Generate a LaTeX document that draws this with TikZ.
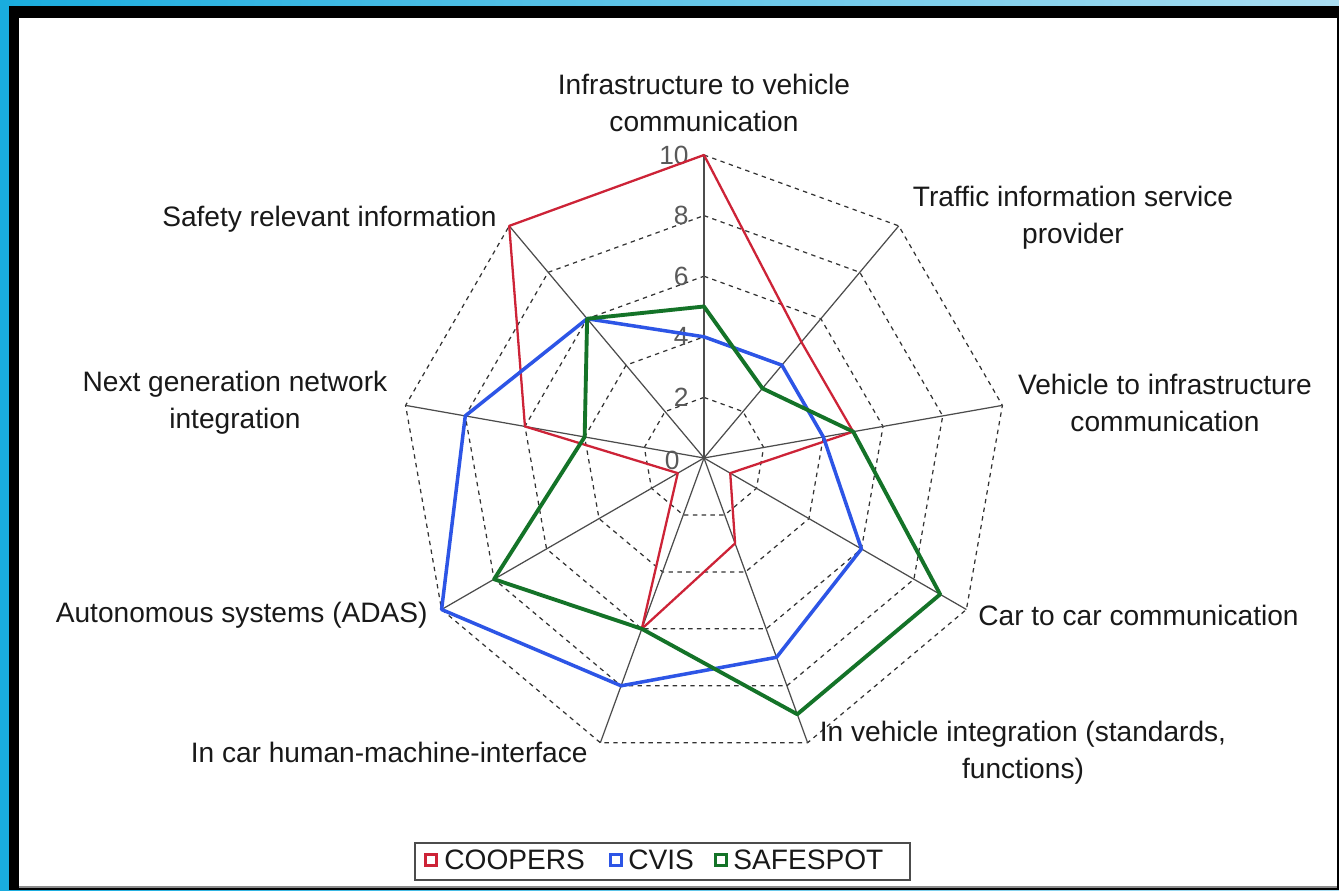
\documentclass[tikz,border=0pt]{standalone}
\usepackage{fontspec}
\setmainfont{Liberation Sans}
\definecolor{coopersred}{RGB}{205,35,55}
\definecolor{cvisblue}{RGB}{45,85,230}
\definecolor{safegreen}{RGB}{20,115,40}
\definecolor{skyleft}{RGB}{25,172,222}
\definecolor{skyright}{RGB}{170,222,242}
\tikzset{
  lbl/.style={font=\fontsize{16}{21}\selectfont, text=black!90, inner sep=0pt, align=center},
  ticklbl/.style={font=\fontsize{15}{18}\selectfont, text=black!65, inner sep=0pt, anchor=east},
  gridline/.style={draw=black!80, line width=0.7pt, dash pattern=on 2.5pt off 2.5pt},
  axisline/.style={draw=black!70, line width=0.7pt},
  coopers/.style={draw=coopersred, line width=1.3pt, line join=round},
  cvis/.style={draw=cvisblue, line width=2pt, line join=round},
  safespot/.style={draw=safegreen, line width=2.2pt, line join=round},
  keybox/.style={draw, line width=1.4pt, minimum size=6.5pt, inner sep=0pt, fill=white},
}
\begin{document}
\begin{tikzpicture}[x=0.02cm, y=0.02cm]
\def\u{30.3}
\useasboundingbox (-704,-432) rectangle (635,458);
% frame
\shade[left color=skyleft, right color=skyright] (-704,-432) rectangle (635,458);
\fill[black] (-695,-432) rectangle (635,452);
\fill[white] (-685,-429) rectangle (633,440);
\draw[black!45, line width=1pt] (-685,-429) -- (633,-429);
% axes
\coordinate (O) at (0,0);
\foreach \i/\a in {1/90,2/50,3/10,4/-30,5/-70,6/-110,7/-150,8/170,9/130}
  \coordinate (A\i) at (\a:{10*\u});
\foreach \r in {2,4,6,8,10}
  \draw[gridline] (90:{\r*\u}) \foreach \a in {50,10,-30,-70,-110,-150,170,130} { -- (\a:{\r*\u}) } -- cycle;
\foreach \i in {1,...,9}
  \draw[axisline] (O) -- (A\i);
% scale
\foreach \v in {2,4,6,8,10}
  \node[ticklbl] (T\v) at (-15,{\v*\u}) {\v};
\node[ticklbl] (T0) at (-24,-2) {0};
% series
\draw[coopers] (90:{10*\u}) \foreach \a/\v in {50/5,10/5,-30/1,-70/3,-110/6,-150/1,170/6,130/10} { -- (\a:{\v*\u}) } -- cycle;
\draw[cvis] (90:{4*\u}) \foreach \a/\v in {50/4,10/4,-30/6,-70/7,-110/8,-150/10,170/8,130/6} { -- (\a:{\v*\u}) } -- cycle;
\draw[safespot] (90:{5*\u}) \foreach \a/\v in {50/3,10/5,-30/9,-70/9,-110/6,-150/8,170/4,130/6} { -- (\a:{\v*\u}) } -- cycle;
% axis names
\node[lbl] (L1) at (0,355) {Infrastructure to vehicle\\communication};
\node[lbl] (L2) at (369,240) {Traffic information service\\provider};
\node[lbl] (L3) at (461,55) {Vehicle to infrastructure\\communication};
\node[lbl, anchor=west] (L4) at (274,-157) {Car to car communication};
\node[lbl] (L5) at (319,-295) {In vehicle integration (standards,\\functions)};
\node[lbl, anchor=east] (L6) at (-116,-294) {In car human-machine-interface};
\node[lbl, anchor=east] (L7) at (-276,-157) {Autonomous systems (ADAS)};
\node[lbl] (L8) at (-469,55) {Next generation network\\integration};
\node[lbl, anchor=east] (L9) at (-207,239) {Safety relevant information};
% legend
\draw[black!70, line width=1pt] (-289,-385) rectangle (206,-422);
\node[keybox, draw=coopersred] (K1) at (-273,-402) {};
\node[lbl, anchor=west] (N1) at (-260,-402) {COOPERS};
\node[keybox, draw=cvisblue] (K2) at (-88,-402) {};
\node[lbl, anchor=west] (N2) at (-76,-402) {CVIS};
\node[keybox, draw=safegreen] (K3) at (17,-402) {};
\node[lbl, anchor=west] (N3) at (29,-402) {SAFESPOT};
\end{tikzpicture}
\end{document}
